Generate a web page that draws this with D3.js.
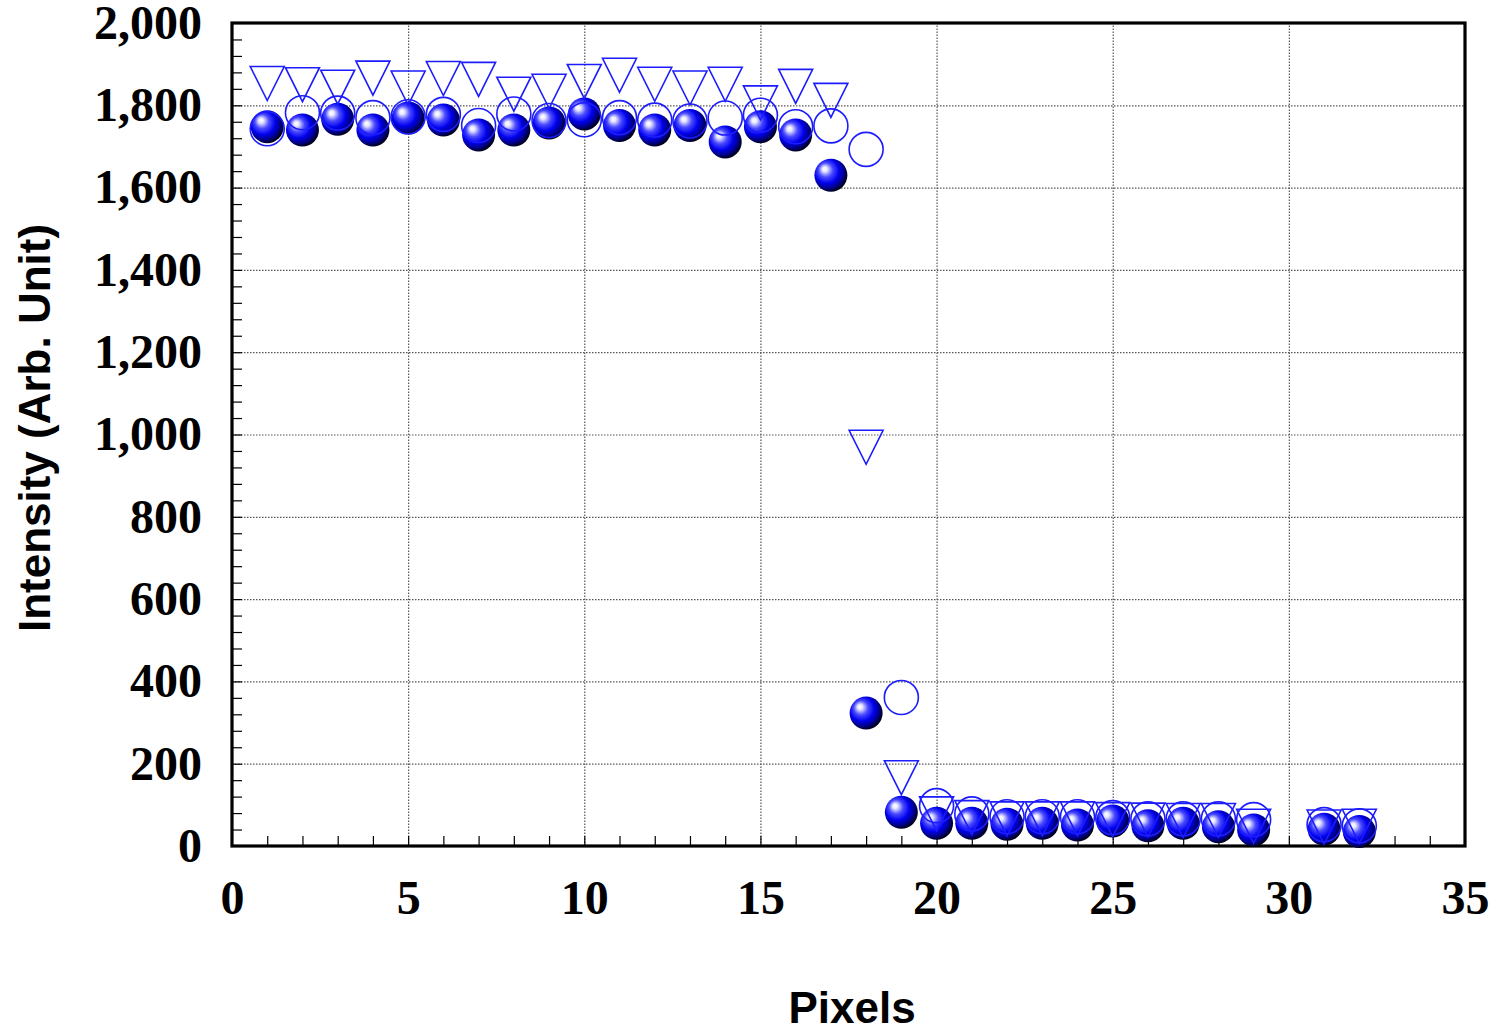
<!DOCTYPE html>
<html>
<head>
<meta charset="utf-8">
<script src="https://cdn.jsdelivr.net/npm/d3@7"></script>
<style>
  body { margin: 0; background: #fff; }
  svg { display: block; }
  .tick-label text { font-family: "Liberation Serif", "Times New Roman", serif; font-weight: bold; font-size: 48px; fill: #000; }
  .axis-title { font-family: "Liberation Sans", Arial, sans-serif; font-weight: bold; font-size: 44px; fill: #000; }
  .grid line { stroke: #555; stroke-width: 1.2; stroke-dasharray: 1.5 1.5; }
  .grid path, .minor path, .tick-label path { display: none; }
  .minor line { stroke: #000; stroke-width: 1.2; }
</style>
</head>
<body>
<svg width="1500" height="1030"></svg>
<script>
// DATA
const pixels = [1, 2, 3, 4, 5, 6, 7, 8, 9, 10, 11, 12, 13, 14, 15, 16, 17, 18, 19, 20, 21, 22, 23, 24, 25, 26, 27, 28, 29, 31, 32]
const spheres = [1748, 1740, 1766, 1740, 1769, 1764, 1728, 1740, 1757, 1779, 1751, 1740, 1751, 1711, 1748, 1728, 1630, 323, 82, 55, 55, 53, 55, 51, 61, 49, 55, 47, 39, 41, 35]
const circles = [1743, 1782, 1781, 1770, 1772, 1778, 1751, 1779, 1763, 1765, 1770, 1764, 1762, 1769, 1776, 1748, 1750, 1693, 361, 98, 78, 71, 71, 71, 69, 66, 66, 66, 64, 52, 49]
const triangles = [1853, 1850, 1844, 1866, 1842, 1865, 1863, 1827, 1834, 1858, 1873, 1851, 1842, 1851, 1806, 1846, 1812, 969, 166, 78, 69, 66, 66, 66, 64, 63, 62, 62, 48, 46, 48]

const xMajor = [0, 5, 10, 15, 20, 25, 30, 35]
const yMajor = [0, 200, 400, 600, 800, 1000, 1200, 1400, 1600, 1800, 2000]

// SETUP
const svg = d3.select("svg")

const plotLeft = 232, plotRight = 1465, plotTop = 23, plotBottom = 846

const x = d3.scaleLinear().domain([0, 35]).range([plotLeft, plotRight])
const y = d3.scaleLinear().domain([0, 2000]).range([plotBottom, plotTop])

const defs = svg.append("defs")
const grad = defs.append("radialGradient")
  .attr("id", "ball")
  .attr("cx", "0.42").attr("cy", "0.42").attr("r", "0.62")
  .attr("fx", "0.3").attr("fy", "0.3")
grad.selectAll("stop")
  .data([
    [0, "#ffffff"], [0.12, "#e8e8ff"], [0.35, "#4a4aff"], [0.6, "#0000ee"],
    [0.8, "#00008a"], [1, "#000000"]
  ])
  .enter().append("stop")
  .attr("offset", d => d[0])
  .attr("stop-color", d => d[1])

// grid
svg.append("g")
  .attr("class", "grid")
  .attr("transform", `translate(0, ${plotBottom})`)
  .call(d3.axisBottom(x).tickValues(xMajor.slice(1, -1)).tickSize(-(plotBottom - plotTop)).tickFormat(""))

svg.append("g")
  .attr("class", "grid")
  .attr("transform", `translate(${plotLeft}, 0)`)
  .call(d3.axisLeft(y).tickValues(yMajor.slice(1, -1)).tickSize(-(plotRight - plotLeft)).tickFormat(""))

// minor ticks (inward)
svg.append("g")
  .attr("class", "minor")
  .attr("transform", `translate(0, ${plotBottom})`)
  .call(d3.axisBottom(x).tickValues(d3.range(1, 35)).tickSize(-10).tickFormat(""))

svg.append("g")
  .attr("class", "minor")
  .attr("transform", `translate(${plotLeft}, 0)`)
  .call(d3.axisLeft(y).tickValues(d3.range(40, 2000, 40)).tickSize(-10).tickFormat(""))

// labels
svg.append("g")
  .attr("class", "tick-label")
  .attr("transform", `translate(0, ${plotBottom})`)
  .call(d3.axisBottom(x).tickValues(xMajor).tickSize(0).tickPadding(34).tickFormat(d3.format("d")))

svg.append("g")
  .attr("class", "tick-label")
  .attr("transform", `translate(${plotLeft}, 0)`)
  .call(d3.axisLeft(y).tickValues(yMajor).tickSize(0).tickPadding(30).tickFormat(d3.format(",")))

// frame
svg.append("rect")
  .attr("x", plotLeft).attr("y", plotTop)
  .attr("width", plotRight - plotLeft).attr("height", plotBottom - plotTop)
  .attr("fill", "none")
  .attr("stroke", "#000")
  .attr("stroke-width", 3.2)

// MARKS
svg.append("g")
  .selectAll("circle")
  .data(pixels)
  .enter().append("circle")
  .attr("cx", d => x(d))
  .attr("cy", (d, i) => y(spheres[i]))
  .attr("r", 16.5)
  .attr("fill", "url(#ball)")

svg.append("g")
  .selectAll("circle")
  .data(pixels)
  .enter().append("circle")
  .attr("cx", d => x(d))
  .attr("cy", (d, i) => y(circles[i]))
  .attr("r", 17)
  .attr("fill", "none")
  .attr("stroke", "#1c1cff")
  .attr("stroke-width", 1.6)

svg.append("g")
  .selectAll("path")
  .data(pixels)
  .enter().append("path")
  .attr("d", "M-17,-17L17,-17L0,17Z")
  .attr("transform", (d, i) => `translate(${x(d)}, ${y(triangles[i])})`)
  .attr("fill", "none")
  .attr("stroke", "#1c1cff")
  .attr("stroke-width", 1.6)

// titles
svg.append("text")
  .attr("class", "axis-title")
  .attr("text-anchor", "middle")
  .attr("transform", `translate(50, 428) rotate(-90)`)
  .text("Intensity (Arb. Unit)")

svg.append("text")
  .attr("class", "axis-title")
  .attr("text-anchor", "middle")
  .attr("x", 852)
  .attr("y", 1023)
  .text("Pixels")
</script>
</body>
</html>
